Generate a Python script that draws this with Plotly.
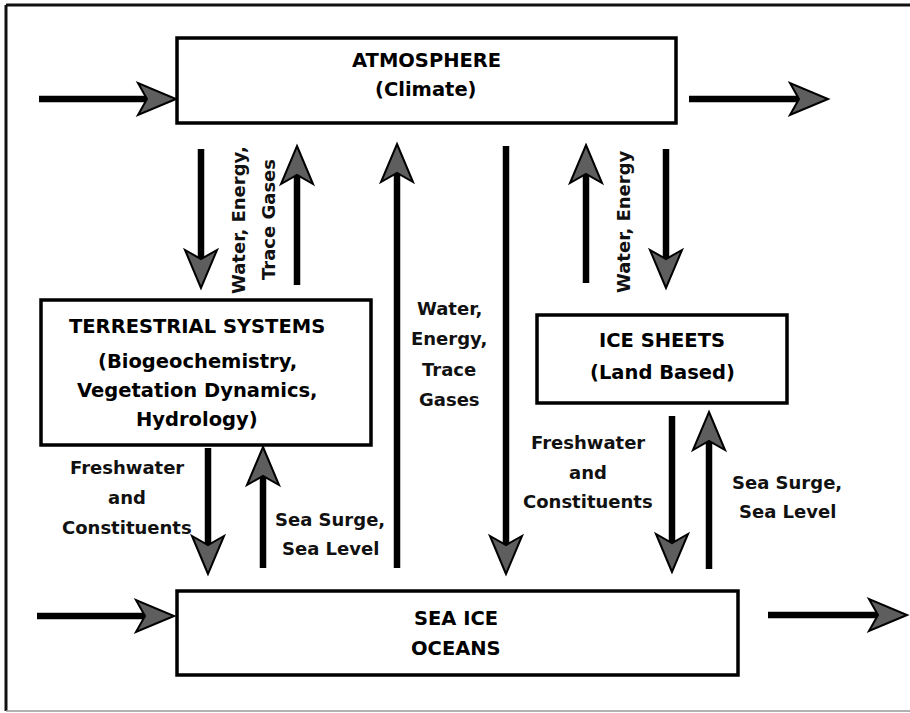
import plotly.graph_objects as go

# ---- diagram content ----
box_lines = [
    ["ATMOSPHERE", "(Climate)"],
    ["TERRESTRIAL SYSTEMS", "(Biogeochemistry,", "Vegetation Dynamics,", "Hydrology)"],
    ["ICE SHEETS", "(Land Based)"],
    ["SEA ICE", "OCEANS"],
]
flow_labels = [
    ["Water, Energy,", "Trace Gases"],
    ["Water,", "Energy,", "Trace", "Gases"],
    ["Water, Energy"],
    ["Freshwater", "and", "Constituents"],
    ["Sea Surge,", "Sea Level"],
    ["Freshwater", "and", "Constituents"],
    ["Sea Surge,", "Sea Level"],
]

# ---- layout geometry (pixels, y downward) ----
box_rects = [  # x0, y0, x1, y1
    (177, 38, 676, 123),
    (41, 300, 371, 445),
    (537, 315, 787, 403),
    (177, 591, 738, 675),
]
box_text_pos = [  # center x, list of line y centres
    (426, [60, 89]),
    (197, [326, 361, 390, 419]),
    (662, [340, 372]),
    (456, [618, 648]),
]
arrows = [  # start (x,y) -> tip (x,y)
    ((39, 99), (176, 99)),
    ((689, 99), (828, 99)),
    ((201, 149), (201, 288)),
    ((297, 285), (297, 146)),
    ((397, 568), (397, 144)),
    ((506, 146), (506, 574)),
    ((586, 283), (586, 145)),
    ((666, 149), (666, 288)),
    ((208, 448), (208, 574)),
    ((263, 568), (263, 447)),
    ((672, 416), (672, 572)),
    ((709, 569), (709, 412)),
    ((37, 616), (174, 616)),
    ((768, 615), (907, 615)),
]
label_pos = [  # centre x, centre y, angle, line spacing
    (253, 220, -90, 30),
    (449, 354, 0, 30.5),
    (623, 222, -90, 30),
    (127, 497, 0, 30),
    (330, 534, 0, 29),
    (588, 472, 0, 29.5),
    (787, 497, 0, 29),
]

W, H = 910, 713
fig = go.Figure()
fig.add_trace(go.Scatter(x=[0, W], y=[0, H], mode="markers",
                         marker=dict(opacity=0), hoverinfo="skip", showlegend=False))

shapes = []
# outer frame
shapes.append(dict(type="line", x0=6, y0=5, x1=910, y1=5, line=dict(color="#111", width=3)))
shapes.append(dict(type="line", x0=6, y0=5, x1=6, y1=711, line=dict(color="#111", width=3)))
shapes.append(dict(type="line", x0=6, y0=711, x1=910, y1=711, line=dict(color="#999", width=1.5)))

for (x0, y0, x1, y1) in box_rects:
    shapes.append(dict(type="rect", x0=x0, y0=y0, x1=x1, y1=y1,
                       line=dict(color="#000", width=3.5), fillcolor="white"))

L, HW, NOTCH = 38, 16, 9
for (sx, sy), (tx, ty) in arrows:
    dx, dy = tx - sx, ty - sy
    n = (dx * dx + dy * dy) ** 0.5
    ux, uy = dx / n, dy / n
    px, py = -uy, ux
    bx, by = tx - L * ux, ty - L * uy
    nx_, ny_ = tx - (L - NOTCH) * ux, ty - (L - NOTCH) * uy
    shapes.append(dict(type="line", x0=sx, y0=sy, x1=nx_ + ux, y1=ny_ + uy,
                       line=dict(color="#000", width=6.5)))
    path = (f"M {tx},{ty} L {bx + HW * px},{by + HW * py} L {nx_},{ny_} "
            f"L {bx - HW * px},{by - HW * py} Z")
    shapes.append(dict(type="path", path=path, fillcolor="#5e5e5e",
                       line=dict(color="#000", width=2)))

annotations = []
TITLE_FONT = dict(family="DejaVu Sans", size=19.5, color="#000", weight="bold")
LABEL_FONT = dict(family="DejaVu Sans", size=18, color="#111", weight="bold")
for lines, (cx, ys) in zip(box_lines, box_text_pos):
    for t, y in zip(lines, ys):
        annotations.append(dict(x=cx, y=y, text=t, showarrow=False, xref="x", yref="y",
                                xanchor="center", yanchor="middle", font=TITLE_FONT))
for lines, (cx, cy, ang, sp) in zip(flow_labels, label_pos):
    k = len(lines)
    for i, t in enumerate(lines):
        off = (i - (k - 1) / 2) * sp
        if ang == 0:
            x, y = cx, cy + off
        else:
            x, y = cx + off, cy
        annotations.append(dict(x=x, y=y, text=t, showarrow=False, xref="x", yref="y",
                                xanchor="center", yanchor="middle", textangle=ang,
                                font=LABEL_FONT))

fig.update_layout(
    width=W, height=H, margin=dict(l=0, r=0, t=0, b=0),
    paper_bgcolor="white", plot_bgcolor="white",
    xaxis=dict(range=[0, W], visible=False, fixedrange=True),
    yaxis=dict(range=[H, 0], visible=False, fixedrange=True),
    shapes=shapes, annotations=annotations, showlegend=False,
)
fig.write_html(
    "out.html",
    config={"displayModeBar": False},
    post_script="document.body.style.margin='0';document.documentElement.style.overflow='hidden';",
)
